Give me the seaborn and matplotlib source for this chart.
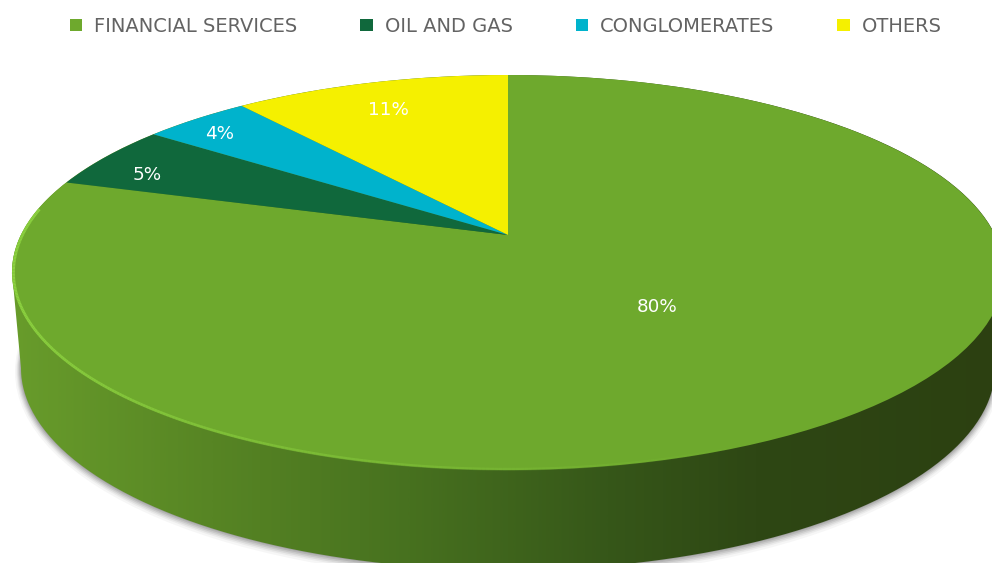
import numpy as np
import matplotlib
matplotlib.use("Agg")
import matplotlib.pyplot as plt
import seaborn as sns
from matplotlib.collections import LineCollection
from matplotlib.colors import LinearSegmentedColormap, to_rgb
from matplotlib.patches import Ellipse, PathPatch
from matplotlib.path import Path
from matplotlib.transforms import Transform

categories = ["FINANCIAL SERVICES", "OIL AND GAS", "CONGLOMERATES", "OTHERS"]
shares = [79.7, 5.3, 4.2, 10.8]
slice_colors = ["#6EA92D", "#10683C", "#00B3CC", "#F5F000"]
label_anchors = [(657, 307), (147, 175), (220, 134), (388, 110)]
side_stops = [(0.0, "#689C2B"), (0.2, "#578524"), (0.4, "#47711F"), (0.6, "#365719"),
              (0.75, "#2E4714"), (1.0, "#2C4011")]


class Perspective(Transform):
    """Tilts the unit-circle pie into the picture's pixel space."""
    input_dims = output_dims = 2
    is_separable = False
    has_inverse = False

    def __init__(self, cx=508.0, cy=235.0, a=487.0, b=190.4, k=0.19):
        super().__init__()
        self.cx, self.cy, self.a, self.b, self.k = cx, cy, a, b, k

    def transform_non_affine(self, values):
        v = np.asarray(values, dtype=float)
        w = 1 + self.k * v[:, 1]
        return np.column_stack([self.cx + self.a * v[:, 0] / w, self.cy - self.b * v[:, 1] / w])


sns.set_theme(style="white")
plt.rcParams["font.family"] = ["DejaVu Sans"]

fig = plt.figure(figsize=(9.92, 5.63), dpi=100, facecolor="white")
ax = fig.add_axes([0, 0, 1, 1])

palette = sns.color_palette(slice_colors)
wedges, _, pct_texts = ax.pie(shares, colors=palette, startangle=90, counterclock=False,
                              autopct="%.0f%%", pctdistance=0.6,
                              textprops=dict(color="white", fontsize=13.2))
ax.set_aspect("auto")

persp = Perspective()
for w in wedges:
    w.set_transform(persp + ax.transData)
    w.set_zorder(5)
    w.set_linewidth(0)
for t, xy in zip(pct_texts, label_anchors):
    t.set_transform(ax.transData)
    t.set_position(xy)
    t.set_zorder(8)

# soft shadow under the pie's body
bottom = dict(xy=(508, 368), width=974, height=404)
for grow, alpha in zip([12, 9, 7, 5, 3, 1], [0.05, 0.07, 0.10, 0.13, 0.16, 0.2]):
    ax.add_patch(Ellipse((bottom["xy"][0], bottom["xy"][1] + grow * 0.3),
                         bottom["width"] + grow, bottom["height"] + grow,
                         color="#555555", alpha=alpha, lw=0, zorder=1))

# side wall with a left-to-right gradient
t_top = np.linspace(np.pi, 2 * np.pi, 200)
t_bot = np.linspace(0, np.pi, 200)
top_xy = np.column_stack([508 + 496 * np.cos(t_top), 272 + 197 * np.sin(t_top)])
bot_xy = np.column_stack([508 + 487 * np.cos(t_bot), 368 + 202 * np.sin(t_bot)])
side_path = Path(np.vstack([top_xy, bot_xy, top_xy[:1]]))
cmap = LinearSegmentedColormap.from_list("side", [(p, to_rgb(c)) for p, c in side_stops])
im = ax.imshow(np.linspace(0, 1, 512)[None, :], cmap=cmap, extent=(12, 1004, 600, 60),
               aspect="auto", zorder=2, interpolation="bilinear")
clip = PathPatch(side_path, transform=ax.transData, facecolor="none", edgecolor="none")
ax.add_patch(clip)
im.set_clip_path(clip)

# bright rim along the front-left edge of the top face
ang = np.radians(np.linspace(172, 295, 300))
rim = persp.transform_non_affine(np.column_stack([np.cos(ang), np.sin(ang)]) * 0.997)
segs = np.stack([rim[:-1], rim[1:]], axis=1)
fade = np.clip(np.linspace(1.3, 0.0, len(segs)), 0, 1)
rim_colors = [(0.55, 0.82, 0.25, f) for f in fade]
ax.add_collection(LineCollection(segs, colors=rim_colors, linewidths=2.0, zorder=6))

leg = ax.legend(wedges, categories, ncol=4, loc="center left", bbox_to_anchor=(0.0705, 0.9535),
                frameon=False, fontsize=14, labelcolor="#636363",
                handlelength=0.62, handleheight=0.55, handletextpad=0.62, columnspacing=3.25,
                borderaxespad=0, borderpad=0)
leg.set_zorder(9)

ax.set_xlim(0, 992)
ax.set_ylim(563, 0)
ax.axis("off")

fig.savefig("out.png", dpi=100, facecolor="white")
